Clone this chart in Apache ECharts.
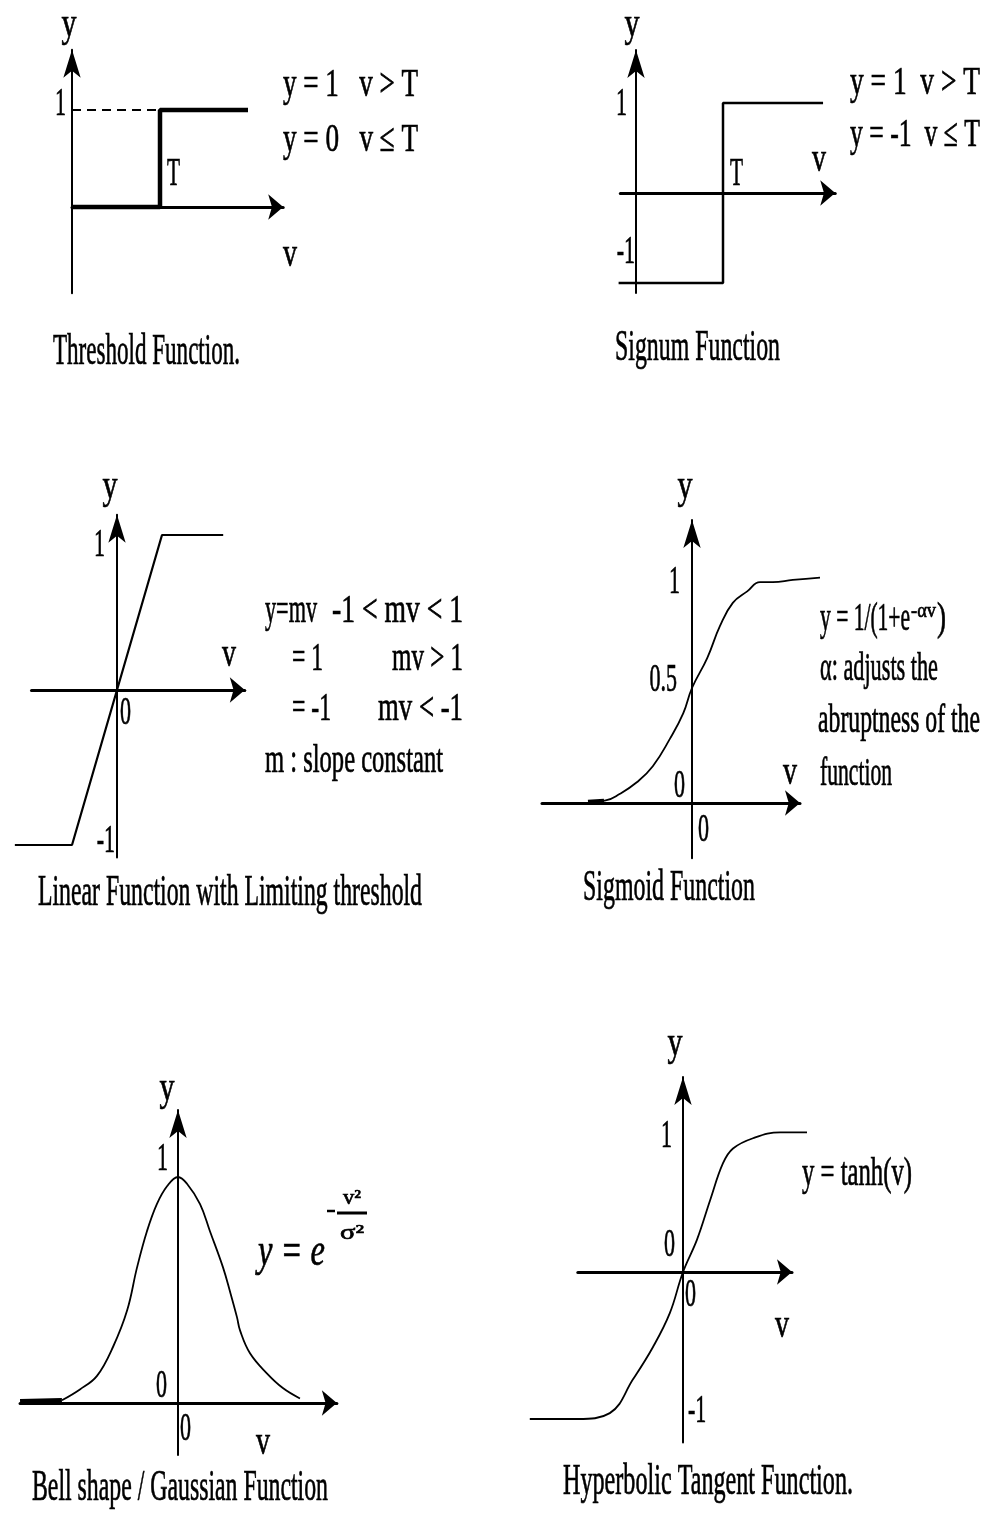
<!DOCTYPE html>
<html>
<head>
<meta charset="utf-8">
<title>Activation functions</title>
<script src="https://cdn.jsdelivr.net/npm/echarts@6/dist/echarts.min.js"></script>
<style>
  html, body { margin: 0; padding: 0; background: #fff; }
  #chart { width: 984px; height: 1513px; }
</style>
</head>
<body>
<div id="chart"></div>
<script>
// ---------- curve values (v, y) ----------
const stepT = 1;

const thresholdV = [0, 1, 1, 2];
const thresholdY = [0, 0, 1, 1];
const thresholdGuideV = [0, 1];
const thresholdGuideY = [1, 1];

const signumV = [-0.2, 1, 1, 2.15];
const signumY = [-1, -1, 1, 1];

const linearV = [-2.27, -1, 1, 2.36];
const linearY = [-1, -1, 1, 1];

const sigmoidV = [-2.6, -2.18, -1.8, -1.38, -0.98, -0.55, -0.22, 0, 0.38, 0.7, 1.02, 1.38, 1.7, 2.02, 2.52, 3.2];
const sigmoidY = [0.005, 0.01, 0.04, 0.09, 0.16, 0.28, 0.39, 0.5, 0.63, 0.77, 0.87, 0.92, 0.96, 0.96, 0.97, 0.98];
const sigmoidTailV = [-2.6, -2.2];
const sigmoidTailY = [0.005, 0.01];

const gaussV = [-2.58, -2.18, -1.8, -1.44, -1.13, -0.91, -0.69, -0.47, -0.24, 0, 0.2, 0.49, 0.71, 1.0, 1.16, 1.31, 1.38, 1.6, 1.98, 2.33, 2.71];
const gaussY = [0.012, 0.06, 0.12, 0.25, 0.41, 0.6, 0.76, 0.88, 0.96, 1.0, 0.97, 0.88, 0.76, 0.6, 0.49, 0.38, 0.32, 0.22, 0.13, 0.066, 0.02];
const gaussTailV = [-3.51, -2.58];
const gaussTailY = [0.008, 0.012];

const tanhV = [-3.83, -2.63, -1.83, -1.25, -0.75, -0.33, 0, 0.35, 0.68, 1.0, 1.25, 1.75, 2.43, 3.1];
const tanhY = [-1, -1, -0.96, -0.73, -0.51, -0.28, 0, 0.22, 0.49, 0.74, 0.84, 0.91, 0.95, 0.95];

// ---------- tick labels ----------
const thresholdTicksY = [1];
const signumTicksY = [1, -1];
const linearTicksY = [1, -1];
const linearTicksX = [0];
const sigmoidTicksY = [1, 0.5, 0];
const sigmoidTicksX = [0];
const gaussTicksY = [1, 0];
const gaussTicksX = [0];
const tanhTicksY = [1, 0, -1];
const tanhTicksX = [0];

// ---------- panel geometry ----------
// origin pixel (ox, oy), pixels per unit (sx, sy), drawn axis ranges (x, y)
// and the wider v-range the curve is allowed to run over (span)
const panels = [
  { ox: 72,  oy: 207,  sx: 88, sy: 97,  x: [0, 2.4],      y: [-0.89, 1.62],  span: [-0.1, 2.5] },
  { ox: 636, oy: 193,  sx: 87, sy: 90,  x: [-0.18, 2.29], y: [-1.11, 1.59],  span: [-0.3, 2.4] },
  { ox: 117, oy: 690,  sx: 45, sy: 155, x: [-1.9, 2.84],  y: [-1.08, 1.13],  span: [-2.4, 2.9] },
  { ox: 692, oy: 803,  sx: 40, sy: 230, x: [-3.75, 2.7],  y: [-0.24, 1.23],  span: [-3.8, 3.3] },
  { ox: 178, oy: 1403, sx: 45, sy: 226, x: [-3.51, 3.53], y: [-0.23, 1.296], span: [-3.6, 3.6] },
  { ox: 683, oy: 1272, sx: 40, sy: 147, x: [-2.63, 2.725], y: [-1.16, 1.327], span: [-3.9, 3.2] }
];
const N = panels.length;

const INK = '#000';
const FONT = '"Liberation Serif", "Times New Roman", serif';

const zip = (a, b) => a.map((v, i) => [v, b[i]]);

function gridBox(p, xr) {
  return {
    left: p.ox + xr[0] * p.sx,
    top: p.oy - p.y[1] * p.sy,
    width: (xr[1] - xr[0]) * p.sx,
    height: (p.y[1] - p.y[0]) * p.sy,
    containLabel: false,
    outerBoundsMode: 'none'
  };
}

// grids 0..5 carry the visible axes; grids 6..11 share the same scale but a
// wider v-range so the curves can run past the arrow heads
const grids = panels.map(p => gridBox(p, p.x)).concat(panels.map(p => gridBox(p, p.span)));

const hidden = { show: false };
const xAxes = panels.map((p, i) => ({
  type: 'value', gridIndex: i, min: p.x[0], max: p.x[1],
  axisLine: { show: true, onZero: true, symbol: ['none', 'arrow'], symbolSize: [19, 15],
              lineStyle: { color: INK, width: 3 } },
  axisTick: hidden, axisLabel: hidden, splitLine: hidden
})).concat(panels.map((p, i) => ({
  type: 'value', gridIndex: N + i, min: p.span[0], max: p.span[1], show: false,
  axisLine: hidden, axisTick: hidden, axisLabel: hidden, splitLine: hidden
})));

const yAxes = panels.map((p, i) => ({
  type: 'value', gridIndex: i, min: p.y[0], max: p.y[1],
  axisLine: { show: true, onZero: true, symbol: ['none', 'arrow'], symbolSize: [13, 28],
              lineStyle: { color: INK, width: 2 } },
  axisTick: hidden, axisLabel: hidden, splitLine: hidden
})).concat(panels.map((p, i) => ({
  type: 'value', gridIndex: N + i, min: p.y[0], max: p.y[1], show: false,
  axisLine: hidden, axisTick: hidden, axisLabel: hidden, splitLine: hidden
})));

function curve(i, data, width, extra) {
  return Object.assign({
    type: 'line', xAxisIndex: N + i, yAxisIndex: N + i, data: data,
    symbol: 'none', showSymbol: false, clip: false, silent: true, z: 3,
    lineStyle: { color: INK, width: width }
  }, extra || {});
}

const series = [
  curve(0, zip(thresholdV, thresholdY), 4.5),
  curve(0, zip(thresholdGuideV, thresholdGuideY), 2, { lineStyle: { color: INK, width: 2, type: [9, 6] } }),
  curve(1, zip(signumV, signumY), 2.5),
  curve(2, zip(linearV, linearY), 2.2),
  curve(3, zip(sigmoidV, sigmoidY), 1.8, { smooth: 0.45 }),
  curve(3, zip(sigmoidTailV, sigmoidTailY), 4),
  curve(4, zip(gaussV, gaussY), 1.8, { smooth: 0.4 }),
  curve(4, zip(gaussTailV, gaussTailY), 4.5),
  curve(5, zip(tanhV, tanhY), 1.8, { smooth: 0.4 })
];

const chart = echarts.init(document.getElementById('chart'), null, { renderer: 'canvas' });
chart.setOption({
  animation: false,
  backgroundColor: '#fff',
  grid: grids,
  xAxis: xAxes,
  yAxis: yAxes,
  series: series
});

// ---------- text: narrow, tall serif lettering ----------
const measureCtx = document.createElement('canvas').getContext('2d');
function naturalWidth(str, font) {
  measureCtx.font = font;
  return measureCtx.measureText(str).width;
}
// y is the baseline unless o.mid is set (then it is the glyph centre)
function txt(str, x, y, w, o) {
  o = o || {};
  const fs = o.fs || 40;
  const font = (o.italic ? 'italic ' : '') + fs + 'px ' + FONT;
  const k = w ? w / naturalWidth(str, font) : (o.k || 0.55);
  const align = o.align || 'left';
  const cy = o.mid ? y : y - 0.33 * fs;
  return {
    type: 'text', x: x, y: cy, scaleX: k, scaleY: 1, silent: true, z: 10,
    style: { text: str, font: font, fill: INK, stroke: INK, lineWidth: 0.7,
             align: align, verticalAlign: 'middle',
             textAlign: align, textVerticalAlign: 'middle' }
  };
}
function rule(x1, y1, x2, y2, w) {
  return { type: 'line', silent: true, z: 10,
           shape: { x1: x1, y1: y1, x2: x2, y2: y2 },
           style: { stroke: INK, lineWidth: w } };
}

const toPx = (i, v, y) => chart.convertToPixel({ gridIndex: i }, [v, y]);

// y tick labels: offset from (axis, value) — negative dx puts the label left of the axis
function yTicks(i, vals, places) {
  return vals.map((v, j) => {
    const pt = toPx(i, 0, v);
    const d = places[j];
    return txt(String(v), pt[0] + d[0], pt[1] + d[1], null,
               { mid: true, align: d[0] < 0 ? 'right' : 'left' });
  });
}
function xTicks(i, vals, place) {
  return vals.map(v => {
    const pt = toPx(i, v, 0);
    return txt(String(v), pt[0] + place[0], pt[1] + place[1], null, { mid: true });
  });
}
function stepLabel(i, dx, dy) {
  const pt = toPx(i, stepT, 0);
  return txt('T', pt[0] + dx, pt[1] + dy, 13);
}
// axis names
const yName = (x, base) => txt('y', x, base, 15, { align: 'center' });
const vName = (x, base) => txt('v', x, base, 14, { align: 'center' });

const elements = [].concat(
  // Threshold
  yName(69, 39),
  yTicks(0, thresholdTicksY, [[-6, -6]]),
  stepLabel(0, 7, -19),
  vName(290, 269),
  txt('y = 1   v > T', 283, 99, 135),
  txt('y = 0   v \u2264 T', 283, 154, 135),
  txt('Threshold Function.', 53, 367, 187, { fs: 44 }),

  // Signum
  yName(632, 39),
  yTicks(1, signumTicksY, [[-9, 1], [-1, -31]]),
  stepLabel(1, 7, -5),
  vName(819, 174),
  txt('y = 1  v > T', 850, 97, 130),
  txt('y = -1  v \u2264 T', 850, 149, 130),
  txt('Signum Function', 615, 363, 165, { fs: 44 }),

  // Linear with limits
  yName(110, 501),
  yTicks(2, linearTicksY, [[-12, 10], [-2, -4]]),
  xTicks(2, linearTicksX, [3, 23]),
  vName(229, 669),
  txt('y=mv', 265, 625, 52),
  txt('-1 < mv < 1', 332, 625, 131),
  txt('= 1', 292, 673, 31),
  txt('mv > 1', 392, 673, 71),
  txt('= -1', 292, 723, 39),
  txt('mv < -1', 378, 723, 85),
  txt('m : slope constant', 265, 775, 178),
  txt('Linear Function with Limiting threshold', 38, 908, 384, { fs: 44 }),

  // Sigmoid
  yName(685, 501),
  yTicks(3, sigmoidTicksY, [[-12, 9], [-15, -8], [-7, -17]]),
  xTicks(3, sigmoidTicksX, [6, 27]),
  vName(790, 787),
  txt('y = 1/(1+e', 820, 633, 90),
  txt('-\u03b1v', 911, 618, 25, { fs: 22 }),
  txt(')', 937, 633, 9),
  txt('\u03b1: adjusts the', 820, 683, 118),
  txt('abruptness of the', 818, 735, 162),
  txt('function', 820, 788, 72),
  txt('Sigmoid Function', 583, 903, 172, { fs: 44 }),

  // Gaussian
  yName(167, 1103),
  yTicks(4, gaussTicksY, [[-10, -18], [-11, -17]]),
  xTicks(4, gaussTicksX, [2, 26]),
  vName(263, 1457),
  txt('y = e', 258, 1268, 67, { fs: 46, italic: true }),
  rule(327, 1211, 335, 1211, 2.5),
  rule(337, 1213, 367, 1213, 3),
  txt('v\u00b2', 352, 1205, 18, { fs: 22, align: 'center' }),
  txt('\u03c3\u00b2', 352, 1240, 24, { fs: 22, align: 'center' }),
  txt('Bell shape / Gaussian Function', 32, 1503, 296, { fs: 44 }),

  // Hyperbolic tangent
  yName(675, 1058),
  yTicks(5, tanhTicksY, [[-11, 11], [-8, -27], [5, -8]]),
  xTicks(5, tanhTicksX, [2, 23]),
  vName(782, 1340),
  txt('y = tanh(v)', 802, 1188, 110),
  txt('Hyperbolic Tangent Function.', 563, 1497, 290, { fs: 44 })
);

chart.setOption({ graphic: { elements: elements } });
</script>
</body>
</html>
